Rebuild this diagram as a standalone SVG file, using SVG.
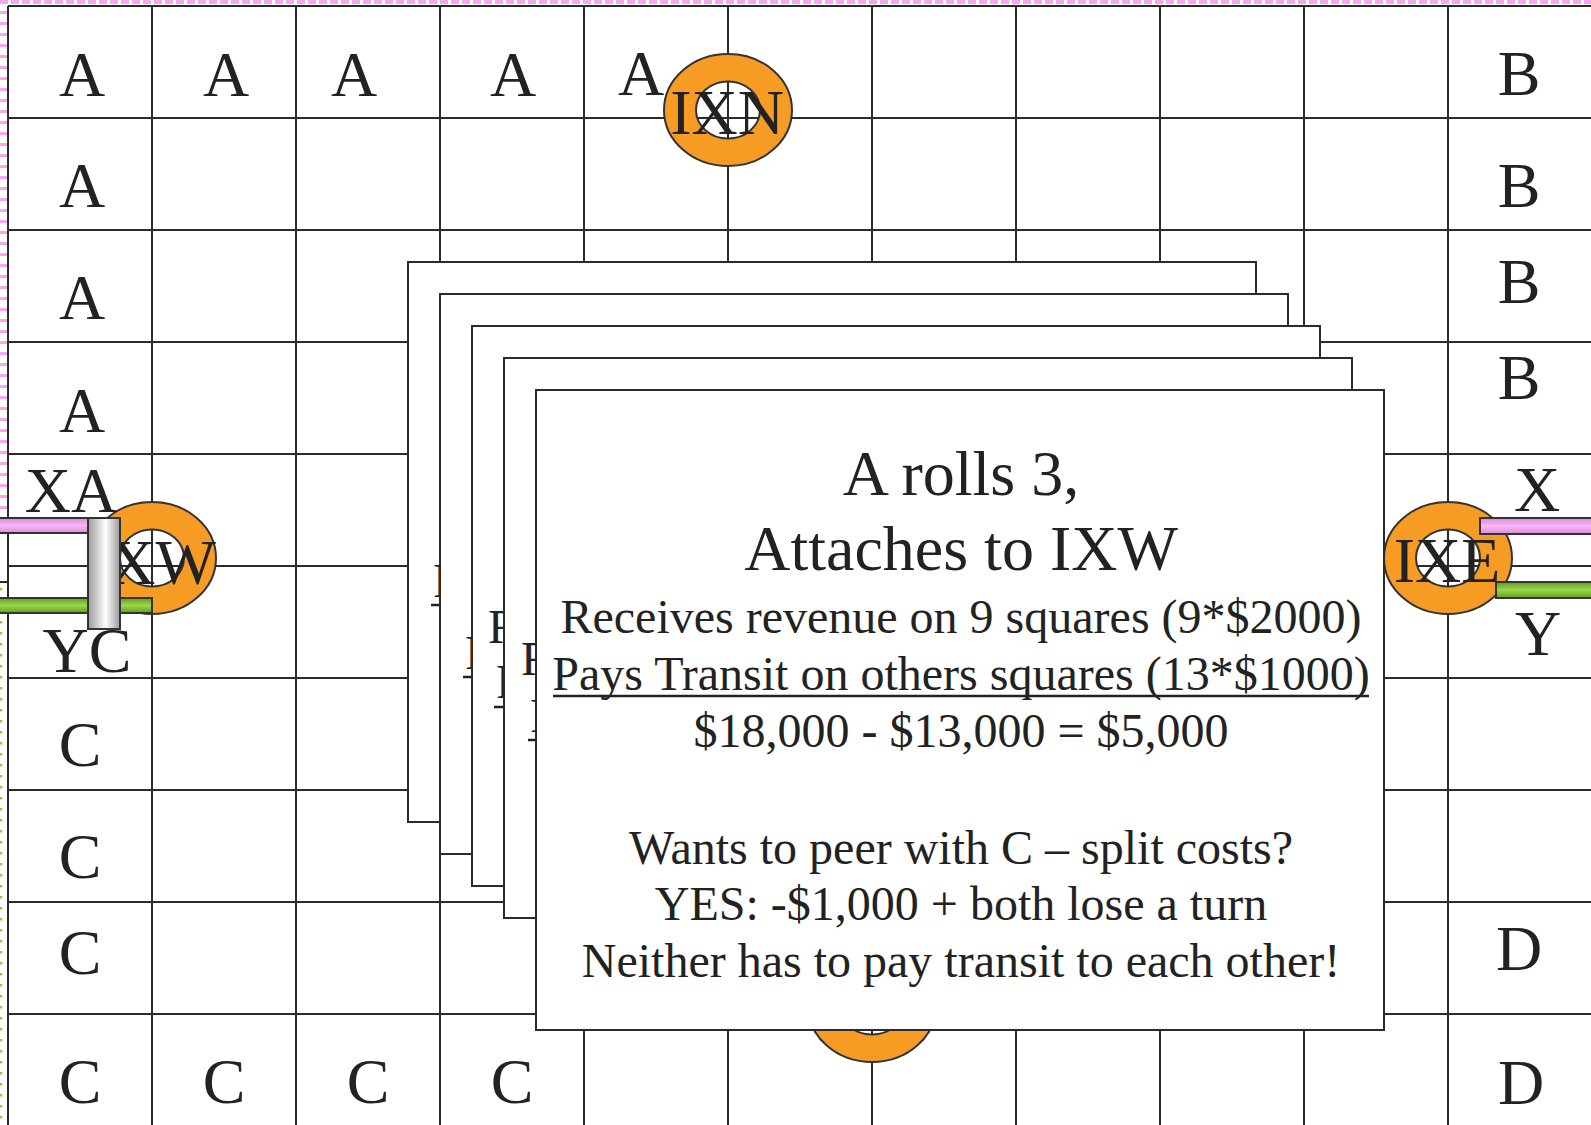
<svg xmlns="http://www.w3.org/2000/svg" width="1591" height="1125" viewBox="0 0 1591 1125">
<style>
.grid line{stroke:#2b2b2b;stroke-width:2}
.lbl{font-family:'Liberation Serif','Times New Roman',serif;font-size:64px;fill:#222;text-anchor:middle}
.ring{fill:#F69C25;fill-rule:evenodd;stroke:#333;stroke-width:2}
.card{fill:#fff;stroke:#2b2b2b;stroke-width:2}
.t64{font-family:'Liberation Serif','Times New Roman',serif;font-size:64px;fill:#222;text-anchor:middle}
.t48{font-family:'Liberation Serif','Times New Roman',serif;font-size:48px;fill:#222;text-anchor:middle}
.frag{font-family:'Liberation Serif','Times New Roman',serif;font-size:48px;fill:#222}
.ul{stroke:#222;stroke-width:2.5}
.bar{stroke:#333;stroke-width:2}
</style>
<defs>
<linearGradient id="pinkG" x1="0" y1="0" x2="0" y2="1">
<stop offset="0" stop-color="#d98ad6"/><stop offset="0.5" stop-color="#fbb8f6"/><stop offset="1" stop-color="#d98ad6"/>
</linearGradient>
<linearGradient id="greenG" x1="0" y1="0" x2="0" y2="1">
<stop offset="0" stop-color="#5e9e1c"/><stop offset="0.5" stop-color="#9ad84a"/><stop offset="1" stop-color="#5e9e1c"/>
</linearGradient>
<linearGradient id="greyG" x1="0" y1="0" x2="1" y2="0">
<stop offset="0" stop-color="#9a9a9a"/><stop offset="0.55" stop-color="#ffffff"/><stop offset="1" stop-color="#9a9a9a"/>
</linearGradient>
</defs>
<rect width="1591" height="1125" fill="#fff"/>
<g id="borders">
<line x1="0" y1="2" x2="1591" y2="2" stroke="#f7a6f2" stroke-width="4" stroke-dasharray="8 3"/>
<line x1="3.5" y1="0" x2="3.5" y2="512" stroke="#f7a6f2" stroke-width="7" stroke-dasharray="3 8"/>
<line x1="0" y1="582" x2="8" y2="582" stroke="#2b2b2b" stroke-width="2"/>
<line x1="1" y1="588" x2="1" y2="1125" stroke="#8ccf3c" stroke-width="2.5" stroke-dasharray="2.5 8.5"/>
</g>
<g class="grid" id="grid">
<line x1="8" y1="6" x2="8" y2="1125"/><line x1="152" y1="6" x2="152" y2="1125"/><line x1="296" y1="6" x2="296" y2="1125"/><line x1="440" y1="6" x2="440" y2="1125"/><line x1="584" y1="6" x2="584" y2="1125"/><line x1="728" y1="6" x2="728" y2="1125"/><line x1="872" y1="6" x2="872" y2="1125"/><line x1="1016" y1="6" x2="1016" y2="1125"/><line x1="1160" y1="6" x2="1160" y2="1125"/><line x1="1304" y1="6" x2="1304" y2="1125"/><line x1="1448" y1="6" x2="1448" y2="1125"/>
<line x1="8" y1="6" x2="1591" y2="6"/><line x1="8" y1="118" x2="1591" y2="118"/><line x1="8" y1="230" x2="1591" y2="230"/><line x1="8" y1="342" x2="1591" y2="342"/><line x1="8" y1="454" x2="1591" y2="454"/><line x1="8" y1="566" x2="1591" y2="566"/><line x1="8" y1="678" x2="1591" y2="678"/><line x1="8" y1="790" x2="1591" y2="790"/><line x1="8" y1="902" x2="1591" y2="902"/><line x1="8" y1="1014" x2="1591" y2="1014"/>
</g>
<g id="IXN"><path class="ring" d="M664,110a64,56 0 1,0 128,0a64,56 0 1,0 -128,0ZM696,110a32,28.5 0 1,0 64,0a32,28.5 0 1,0 -64,0Z"/><text class="lbl" x="727" y="134">IXN</text></g>
<g id="IXE"><path class="ring" d="M1384,558a64,56 0 1,0 128,0a64,56 0 1,0 -128,0ZM1416,558a32,28.5 0 1,0 64,0a32,28.5 0 1,0 -64,0Z"/><text class="lbl" x="1447" y="582">IXE</text></g>
<g id="IXS"><path class="ring" d="M808,1006a64,56 0 1,0 128,0a64,56 0 1,0 -128,0ZM840,1006a32,28.5 0 1,0 64,0a32,28.5 0 1,0 -64,0Z"/><text class="lbl" x="871" y="1030">IXS</text></g>
<g id="IXW"><path class="ring" d="M88,558a64,56 0 1,0 128,0a64,56 0 1,0 -128,0ZM120,558a32,28.5 0 1,0 64,0a32,28.5 0 1,0 -64,0Z"/><text class="lbl" x="152" y="584">IXW</text></g>
<g id="labels">
<text class="lbl" x="82" y="96">A</text><text class="lbl" x="226" y="96">A</text><text class="lbl" x="354" y="96">A</text><text class="lbl" x="513" y="96">A</text><text class="lbl" x="641" y="95">A</text>
<text class="lbl" x="1519" y="95">B</text>
<text class="lbl" x="82" y="207">A</text><text class="lbl" x="1519" y="207">B</text>
<text class="lbl" x="82" y="319">A</text><text class="lbl" x="1519" y="303">B</text>
<text class="lbl" x="82" y="432">A</text><text class="lbl" x="1519" y="399">B</text>
<text class="lbl" x="71" y="512">XA</text><text class="lbl" x="1537" y="511">X</text>
<text class="lbl" x="87" y="672">YC</text><text class="lbl" x="1538" y="655">Y</text>
<text class="lbl" x="80" y="766">C</text>
<text class="lbl" x="80" y="878">C</text>
<text class="lbl" x="80" y="974">C</text><text class="lbl" x="1519" y="970">D</text>
<text class="lbl" x="80" y="1103">C</text><text class="lbl" x="224" y="1103">C</text><text class="lbl" x="368" y="1103">C</text><text class="lbl" x="512" y="1103">C</text><text class="lbl" x="1521" y="1104">D</text>
</g>
<g id="connectors">
<rect class="bar" x="-4" y="518" width="106" height="15" fill="url(#pinkG)"/>
<rect class="bar" x="-4" y="598" width="156" height="15" fill="url(#greenG)"/>
<rect class="bar" x="88" y="518" width="32" height="111" fill="url(#greyG)"/>
<rect class="bar" x="1480" y="518" width="120" height="16" fill="url(#pinkG)"/>
<rect class="bar" x="1496" y="582" width="104" height="16" fill="url(#greenG)"/>
</g>
<g id="card1"><rect class="card" x="408" y="262" width="848" height="560"/>
<text class="frag" x="438" y="540">R</text>
<text class="frag" x="433" y="597">P</text><line class="ul" x1="431" y1="605" x2="460" y2="605"/></g>
<g id="card2"><rect class="card" x="440" y="294" width="848" height="560"/>
<text class="frag" x="470" y="611">R</text>
<text class="frag" x="465" y="669">P</text><line class="ul" x1="463" y1="677" x2="492" y2="677"/></g>
<g id="card3"><rect class="card" x="472" y="326" width="848" height="560"/>
<text class="frag" x="488" y="643">R</text>
<text class="frag" x="496" y="698">P</text><line class="ul" x1="494" y1="707" x2="523" y2="707"/></g>
<g id="card4"><rect class="card" x="504" y="358" width="848" height="560"/>
<text class="frag" x="521" y="675">R</text>
<text class="frag" x="530" y="732">P</text><line class="ul" x1="528" y1="740" x2="557" y2="740"/></g>
<g id="card5"><rect class="card" x="536" y="390" width="848" height="640"/>
<text class="t64" x="961" y="495">A rolls 3,</text>
<text class="t64" x="961" y="570">Attaches to IXW</text>
<text class="t48" x="961" y="633">Receives revenue on 9 squares (9*$2000)</text>
<text class="t48" x="961" y="690">Pays Transit on others squares (13*$1000)</text>
<line class="ul" x1="553" y1="696" x2="1369" y2="696"/>
<text class="t48" x="961" y="747">$18,000 - $13,000 = $5,000</text>
<text class="t48" x="961" y="864">Wants to peer with C – split costs?</text>
<text class="t48" x="961" y="920">YES: -$1,000 + both lose a turn</text>
<text class="t48" x="961" y="977">Neither has to pay transit to each other!</text>
</g>
</svg>
